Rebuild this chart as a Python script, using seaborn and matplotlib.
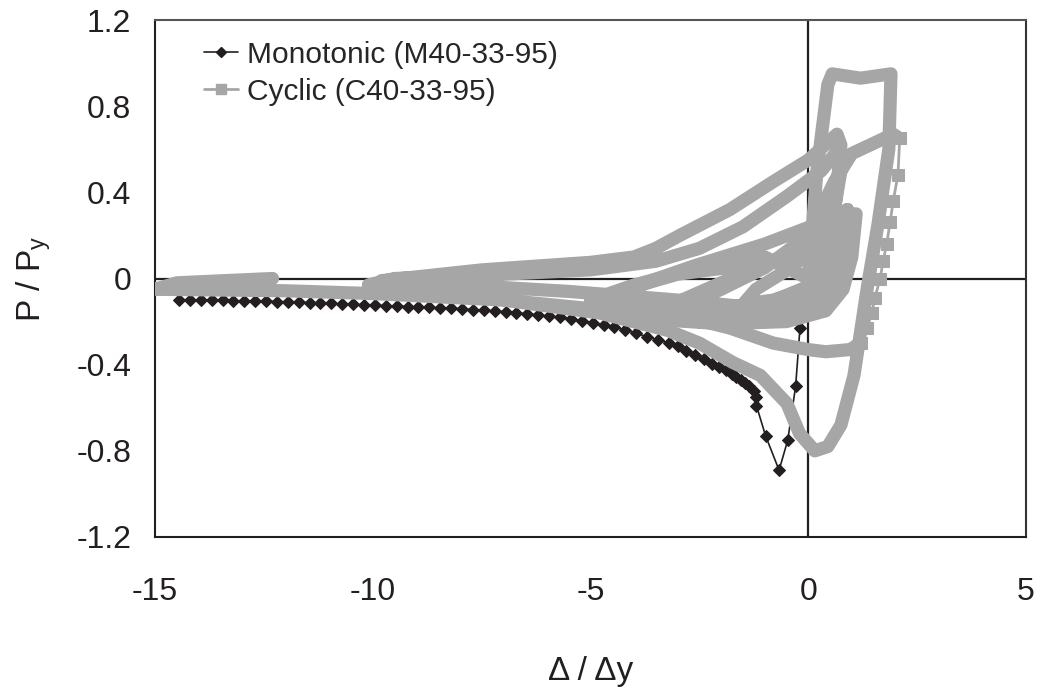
import pandas as pd
import seaborn as sns
import matplotlib.pyplot as plt
from matplotlib.lines import Line2D

# Monotonic test (M40-33-95)
mono_x = [0.0, -0.1, -0.19, -0.29, -0.47, -0.67, -0.98, -1.19, -1.2, -1.25, -1.35, -1.45,
          -1.55, -1.65, -1.75, -1.9, -2.05, -2.2, -2.4, -2.6, -2.8, -3.0, -3.2, -3.45,
          -3.7, -3.95, -4.2, -4.45, -4.7, -4.95, -5.2, -5.45, -5.7, -5.95, -6.2, -6.45,
          -6.7, -6.95, -7.2, -7.45, -7.7, -7.95, -8.2, -8.45, -8.7, -8.95, -9.2, -9.45,
          -9.7, -9.95, -10.2, -10.45, -10.7, -10.95, -11.2, -11.45, -11.7, -11.95, -12.2,
          -12.45, -12.7, -12.95, -13.2, -13.45, -13.7, -13.95, -14.2, -14.45]
mono_y = [-0.01, -0.1, -0.23, -0.5, -0.75, -0.89, -0.73, -0.59, -0.55, -0.52, -0.5, -0.485,
          -0.47, -0.455, -0.445, -0.425, -0.41, -0.395, -0.375, -0.355, -0.335, -0.315, -0.3, -0.285,
          -0.27, -0.255, -0.24, -0.225, -0.215, -0.205, -0.195, -0.188, -0.181, -0.175, -0.169, -0.164,
          -0.159, -0.155, -0.151, -0.147, -0.144, -0.141, -0.138, -0.136, -0.134, -0.132, -0.13, -0.128,
          -0.126, -0.124, -0.122, -0.12, -0.118, -0.116, -0.114, -0.112, -0.11, -0.108, -0.107,
          -0.106, -0.105, -0.104, -0.103, -0.102, -0.101, -0.1, -0.099, -0.098]

# Cyclic test (C40-33-95): densely sampled cycles, traced as a path
cyc_x = [0.0, 0.3, 0.5, 0.35, 0.0, -0.8, -1.5, -1.2, -0.4, 0.2, 0.5,
         0.9, 0.85, 0.6, 0.2, -1.0, -2.5, -3.2, -2.9, -2.0, -0.8, 0.3, 0.96,
         1.1, 1.0, 0.8, 0.4, -0.5, -2.0, -3.5, -5.0, -4.6, -3.6, -2.6, -1.0, 0.3, 0.9,
         0.85, 0.5, -0.5, -2.0, -3.8, -4.8, -4.2, -3.0, -1.5, -0.3, 0.4, 0.9,
         0.8, 0.3, -1.0, -3.0, -5.0, -7.5, -10.0, -9.8, -7.5, -5.0, -4.0, -3.5, -2.95, -1.8,
         -0.8, 0.0, 0.66,
         0.75, 0.6, 0.4, 0.1, -1.0, -3.0, -5.5, -8.0, -10.1, -9.5, -7.0, -5.0, -3.5, -2.5,
         -1.5, -0.5, 0.3, 0.7,
         0.75, 0.5, 0.2, -1.0, -3.0, -2.0, -1.0, 0.0, 0.6, 1.0, 1.95, 2.1]
cyc_y = [0.0, 0.15, 0.25, 0.1, -0.05, -0.1, -0.12, -0.05, 0.05, 0.15, 0.25,
         0.32, 0.2, 0.0, -0.12, -0.17, -0.2, -0.19, -0.1, -0.02, 0.08, 0.2, 0.3,
         0.3, 0.1, -0.05, -0.15, -0.2, -0.21, -0.19, -0.15, -0.1, -0.01, 0.06, 0.16, 0.26, 0.32,
         0.15, -0.02, -0.12, -0.15, -0.14, -0.12, -0.05, 0.02, 0.06, 0.1, 0.15, 0.22,
         0.05, -0.12, -0.2, -0.19, -0.14, -0.09, -0.06, -0.01, 0.04, 0.075, 0.1, 0.14, 0.2, 0.32,
         0.45, 0.55, 0.67,
         0.62, 0.3, 0.0, -0.1, -0.14, -0.1, -0.06, -0.03, -0.03, 0.0, 0.02, 0.04, 0.08, 0.14,
         0.24, 0.38, 0.5, 0.6,
         0.5, 0.2, -0.02, -0.12, -0.14, -0.05, 0.05, 0.2, 0.45, 0.58, 0.67, 0.65]

# fast unloading branch, where single points are visible
fast_x = [2.1, 2.06, 1.95, 1.88, 1.8, 1.72, 1.65, 1.53, 1.46, 1.35, 1.2]
fast_y = [0.65, 0.48, 0.36, 0.26, 0.16, 0.08, 0.0, -0.09, -0.16, -0.23, -0.3]

# last cycles: band at -0.33, big loop and the excursion to -15
last_x = [1.2, 0.96, 0.4, 0.0, -0.8, -1.8, -3.0, -4.5, -5.0, -4.0, -2.5, -1.0, -0.2, 0.0,
          0.2, 0.45, 0.55, 1.2, 1.9, 1.85, 1.6, 1.35, 1.05, 0.75, 0.45, 0.15, -0.2, -0.49,
          -1.1, -1.73, -2.5, -3.24, -4.8, -7.0, -10.0, -12.0, -15.0, -14.5, -12.3]
last_y = [-0.3, -0.33, -0.34, -0.33, -0.3, -0.23, -0.17, -0.12, -0.1, -0.03, 0.05, 0.1, 0.02, 0.0,
          0.5, 0.9, 0.95, 0.93, 0.95, 0.6, 0.25, -0.05, -0.45, -0.68, -0.78, -0.8, -0.72, -0.58,
          -0.45, -0.39, -0.3, -0.24, -0.16, -0.1, -0.07, -0.057, -0.05, -0.02, 0.0]

x_ticks = [-15, -10, -5, 0, 5]
y_ticks = [-1.2, -0.8, -0.4, 0, 0.4, 0.8, 1.2]
y_tick_labels = ["-1.2", "-0.8", "-0.4", "0", "0.4", "0.8", "1.2"]

mono = pd.DataFrame({"x": mono_x, "y": mono_y})
cyc = pd.DataFrame({"x": cyc_x, "y": cyc_y})
fast = pd.DataFrame({"x": fast_x, "y": fast_y})
last = pd.DataFrame({"x": last_x, "y": last_y})

sns.set_style("white")
plt.rcParams['font.family'] = ['Liberation Sans', 'DejaVu Sans']
plt.rcParams['axes.unicode_minus'] = False

gray = "#A6A6A6"
black = "#231F20"

fig = plt.figure(figsize=(10.44, 6.92), dpi=100)
ax = fig.add_axes([155 / 1044, 1 - 537 / 692, 871 / 1044, 517 / 692])

# axis lines through the origin
ax.axhline(0, color=black, lw=1.6, zorder=1)
ax.axvline(0, color=black, lw=1.6, zorder=1)

sns.lineplot(data=mono, x="x", y="y", sort=False, estimator=None, color=black, lw=1.2,
             marker="D", markersize=6, markeredgecolor=black, ax=ax, zorder=2)
for d in (cyc, last):
    sns.lineplot(data=d, x="x", y="y", sort=False, estimator=None, color=gray, lw=9.5,
                 solid_joinstyle="round", solid_capstyle="round", ax=ax, zorder=3)
sns.lineplot(data=fast, x="x", y="y", sort=False, estimator=None, color=gray, lw=2,
             marker="s", markersize=8, markeredgecolor=gray, ax=ax, zorder=3)

ax.set_xlim(-15, 5)
ax.set_ylim(-1.2, 1.2)
ax.set_xticks(x_ticks)
ax.set_yticks(y_ticks)
ax.set_yticklabels(y_tick_labels)
ax.tick_params(axis="both", direction="out", length=6, width=1.5, colors=black,
               labelsize=23, labelcolor=black)
ax.tick_params(axis="x", pad=23)
ax.tick_params(axis="y", pad=11)
for s in ax.spines.values():
    s.set_color(black)
    s.set_linewidth(1.5)
ax.spines["top"].set_color("#555555")
ax.spines["right"].set_color("#333333")

ax.set_xlabel("Δ / Δy", fontsize=24, labelpad=35, color=black)
ax.set_ylabel("P / P$_\\mathregular{y}$", fontsize=24, labelpad=17, color=black)

handles = [
    Line2D([], [], color=black, lw=1.2, marker="D", markersize=5),
    Line2D([], [], color=gray, lw=2, marker="s", markersize=7),
]
ax.legend(handles, ["Monotonic (M40-33-95)", "Cyclic (C40-33-95)"], loc="upper left",
          bbox_to_anchor=(0.032, 1.0), frameon=False, fontsize=21.5, handlelength=1.15,
          handletextpad=0.3, labelspacing=0.3, borderaxespad=0.3)

fig.savefig("out.png", dpi=100)
